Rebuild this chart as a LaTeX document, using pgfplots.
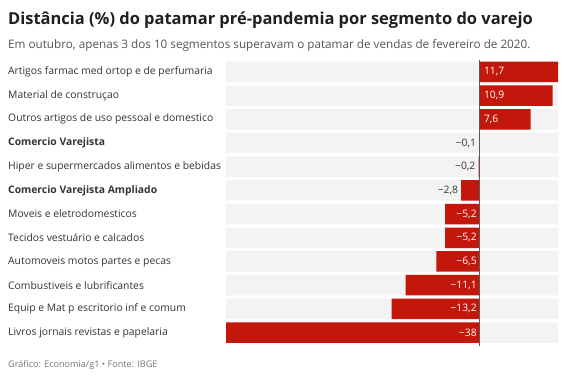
\documentclass[border=0pt]{standalone}
\usepackage{fontspec}
\setmainfont{Open Sans}
\usepackage{pgfplots}
\pgfplotsset{compat=1.18}
\definecolor{gred}{HTML}{C4170C}
\definecolor{band}{HTML}{F3F3F3}
\definecolor{txt}{HTML}{333333}
\definecolor{sub}{HTML}{555555}
\definecolor{foot}{HTML}{777777}
\begin{document}
\begin{tikzpicture}[x=1pt,y=1pt]
\path[use as bounding box, fill=white] (0,0) rectangle (567,378);
\node[anchor=base west, inner sep=0pt, font=\bfseries\fontsize{16.45}{18}\selectfont, text=black!88] at (8,353) {Distância (\%) do patamar pré-pandemia por segmento do varejo};
\node[anchor=base west, inner sep=0pt, font=\fontsize{11.7}{13}\selectfont, text=sub] at (8,329) {Em outubro, apenas 3 dos 10 segmentos superavam o patamar de vendas de fevereiro de 2020.};
\node[anchor=base west, inner sep=0pt, font=\fontsize{9.1}{10}\selectfont, text=foot] at (8,11) {Gráfico: Economia/g1 • Fonte: IBGE};
\begin{axis}[
  at={(226pt,318pt)}, anchor=north west,
  width=332pt, height=284.4pt, scale only axis,
  xmin=-38, xmax=11.7, ymin=-0.5, ymax=11.5,
  y dir=reverse,
  axis line style={draw=none},
  xtick=\empty,
  ytick={0,1,2,3,4,5,6,7,8,9,10,11},
  major tick length=0pt,
  yticklabels={Artigos farmac med ortop e de perfumaria, Material de construçao, Outros artigos de uso pessoal e domestico, {\bfseries Comercio Varejista}, Hiper e supermercados alimentos e bebidas, {\bfseries Comercio Varejista Ampliado}, Moveis e eletrodomesticos, Tecidos vestuário e calcados, Automoveis motos partes e pecas, Combustiveis e lubrificantes, Equip e Mat p escritorio inf e comum, Livros jornais revistas e papelaria},
  yticklabel style={anchor=west, inner sep=0pt, xshift=-218pt, font=\fontsize{10.35}{12}\selectfont, text=txt},
  clip=false,
]
% background bands
\addplot[xbar, bar shift=0pt, bar width=20.5pt, fill=band, draw=none] coordinates {(11.7,0) (11.7,1) (11.7,2) (11.7,3) (11.7,4) (11.7,5) (11.7,6) (11.7,7) (11.7,8) (11.7,9) (11.7,10) (11.7,11)};
\addplot[xbar, bar shift=0pt, bar width=20.5pt, fill=band, draw=none] coordinates {(-38,0) (-38,1) (-38,2) (-38,3) (-38,4) (-38,5) (-38,6) (-38,7) (-38,8) (-38,9) (-38,10) (-38,11)};
% values
\addplot[xbar, bar shift=0pt, bar width=20.5pt, fill=gred, draw=none] coordinates {(11.7,0) (10.9,1) (7.6,2) (-0.1,3) (-0.2,4) (-2.8,5) (-5.2,6) (-5.2,7) (-6.5,8) (-11.1,9) (-13.2,10) (-38,11)};
\draw[color=black!65, line width=0.8pt] (axis cs:0,-0.52) -- (axis cs:0,11.55);
% labels
\addplot[only marks, mark=none, nodes near coords, point meta=explicit symbolic,
  every node near coord/.style={anchor=west, xshift=4pt, inner sep=0pt, text=white, font=\fontsize{10.3}{12}\selectfont}]
  table[meta=l] {
x y l
0 0 11,7
0 1 10,9
0 2 7,6
};
\addplot[only marks, mark=none, nodes near coords, point meta=explicit symbolic,
  every node near coord/.style={anchor=east, xshift=-3pt, inner sep=0pt, text=white, font=\fontsize{10.3}{12}\selectfont}]
  table[meta=l] {
x y l
0 6 −5,2
0 7 −5,2
0 8 −6,5
0 9 −11,1
0 10 −13,2
0 11 −38
};
\addplot[only marks, mark=none, nodes near coords, point meta=explicit symbolic,
  every node near coord/.style={anchor=east, xshift=-3pt, inner sep=0pt, text=txt, font=\fontsize{10.3}{12}\selectfont}]
  table[meta=l] {
x y l
-0.1 3 −0,1
-0.2 4 −0,2
-2.8 5 −2,8
};
\end{axis}
\end{tikzpicture}
\end{document}
